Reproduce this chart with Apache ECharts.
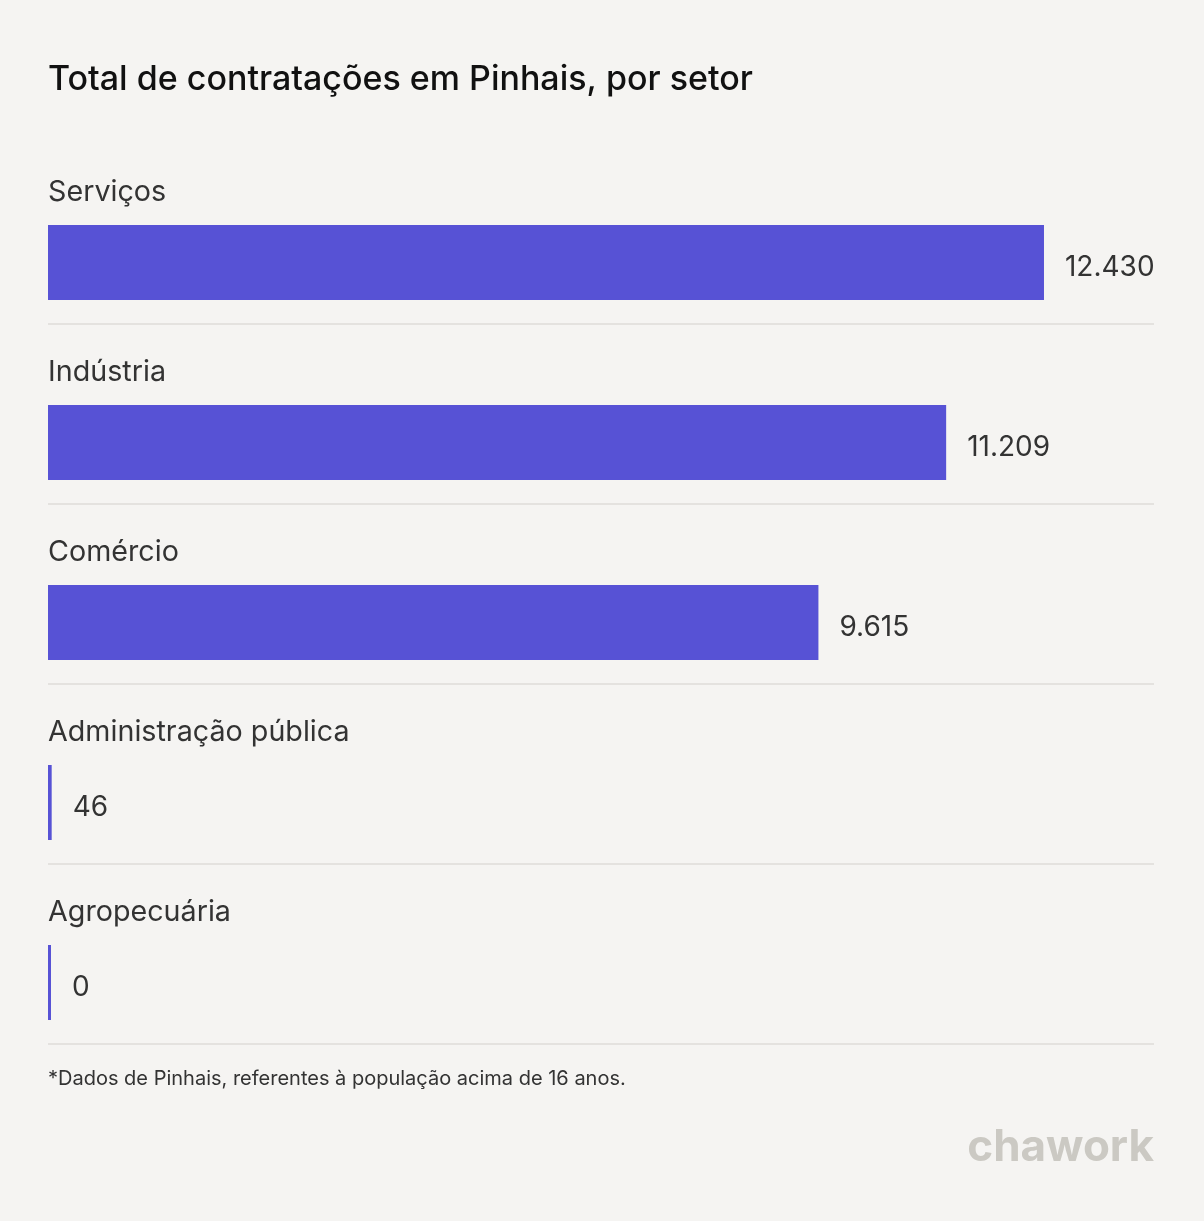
<!DOCTYPE html>
<html>
<head>
<meta charset="utf-8">
<script src="https://cdn.jsdelivr.net/npm/echarts@6/dist/echarts.min.js"></script>
<style>
html,body{margin:0;padding:0;background:#f5f4f2;}
#c{width:1204px;height:1221px;}
</style>
</head>
<body>
<div id="c"></div>
<script>
const categories = ['Serviços', 'Indústria', 'Comércio', 'Administração pública', 'Agropecuária'];
const values = [12430, 11209, 9615, 46, 0];
const titleText = 'Total de contratações em Pinhais, por setor';
const footnote = '*Dados de Pinhais, referentes à população acima de 16 anos.';

const FONT = 'Inter, "Noto Sans", sans-serif';
const BAR = '#5752d5';
const fmt = v => v.toLocaleString('pt-BR');

const chart = echarts.init(document.getElementById('c'), null, {renderer: 'canvas'});
chart.setOption({
  backgroundColor: '#f5f4f2',
  animation: false,
  title: {
    text: titleText,
    left: 48, top: 63, padding: 0,
    textStyle: {fontFamily: FONT, fontSize: 34, fontWeight: 500, color: '#111111'}
  },
  grid: {left: 48, right: 50, top: 144, bottom: 177, containLabel: false},
  xAxis: {
    type: 'value', min: 0, max: 13803, show: false
  },
  yAxis: {
    type: 'category', data: categories, inverse: true,
    axisLine: {show: false}, axisTick: {show: false}, axisLabel: {show: false},
    splitLine: {show: true, showMinLine: false, lineStyle: {color: '#e4e2df', width: 2}}
  },
  series: [{
    type: 'custom',
    encode: {x: 0, y: 1},
    data: values.map((v, i) => [v, i]),
    renderItem: function (params, api) {
      const v = api.value(0);
      const idx = api.value(1);
      const p0 = api.coord([0, idx]);
      const p1 = api.coord([v, idx]);
      const band = api.size([0, 1])[1];
      const bandTop = p0[1] - band / 2;
      const w = Math.max(3, p1[0] - p0[0]);
      const barTop = bandTop + 81;
      const barH = 75;
      return {
        type: 'group',
        children: [
          {type: 'text', style: {x: p0[0], y: bandTop + 48, text: categories[idx], fontFamily: FONT, fontSize: 28.7, fontWeight: 400, fill: '#333333', verticalAlign: 'middle', align: 'left'}},
          {type: 'rect', shape: {x: p0[0], y: barTop, width: w, height: barH}, style: {fill: BAR}},
          {type: 'text', style: {x: p0[0] + w + 21, y: barTop + barH / 2 + 5, text: fmt(v), fontFamily: FONT, fontSize: 28, fontWeight: 400, fill: '#333333', verticalAlign: 'middle', align: 'left'}}
        ]
      };
    }
  }],
  graphic: [
    {type: 'text', left: 48, top: 1069, style: {text: footnote, fontFamily: FONT, fontSize: 20, fill: '#333333'}},
    {type: 'text', right: 50, top: 1126, style: {text: 'chawork', fontFamily: FONT, fontSize: 44, fontWeight: 700, fill: '#cbc9c3'}}
  ]
});
</script>
</body>
</html>
